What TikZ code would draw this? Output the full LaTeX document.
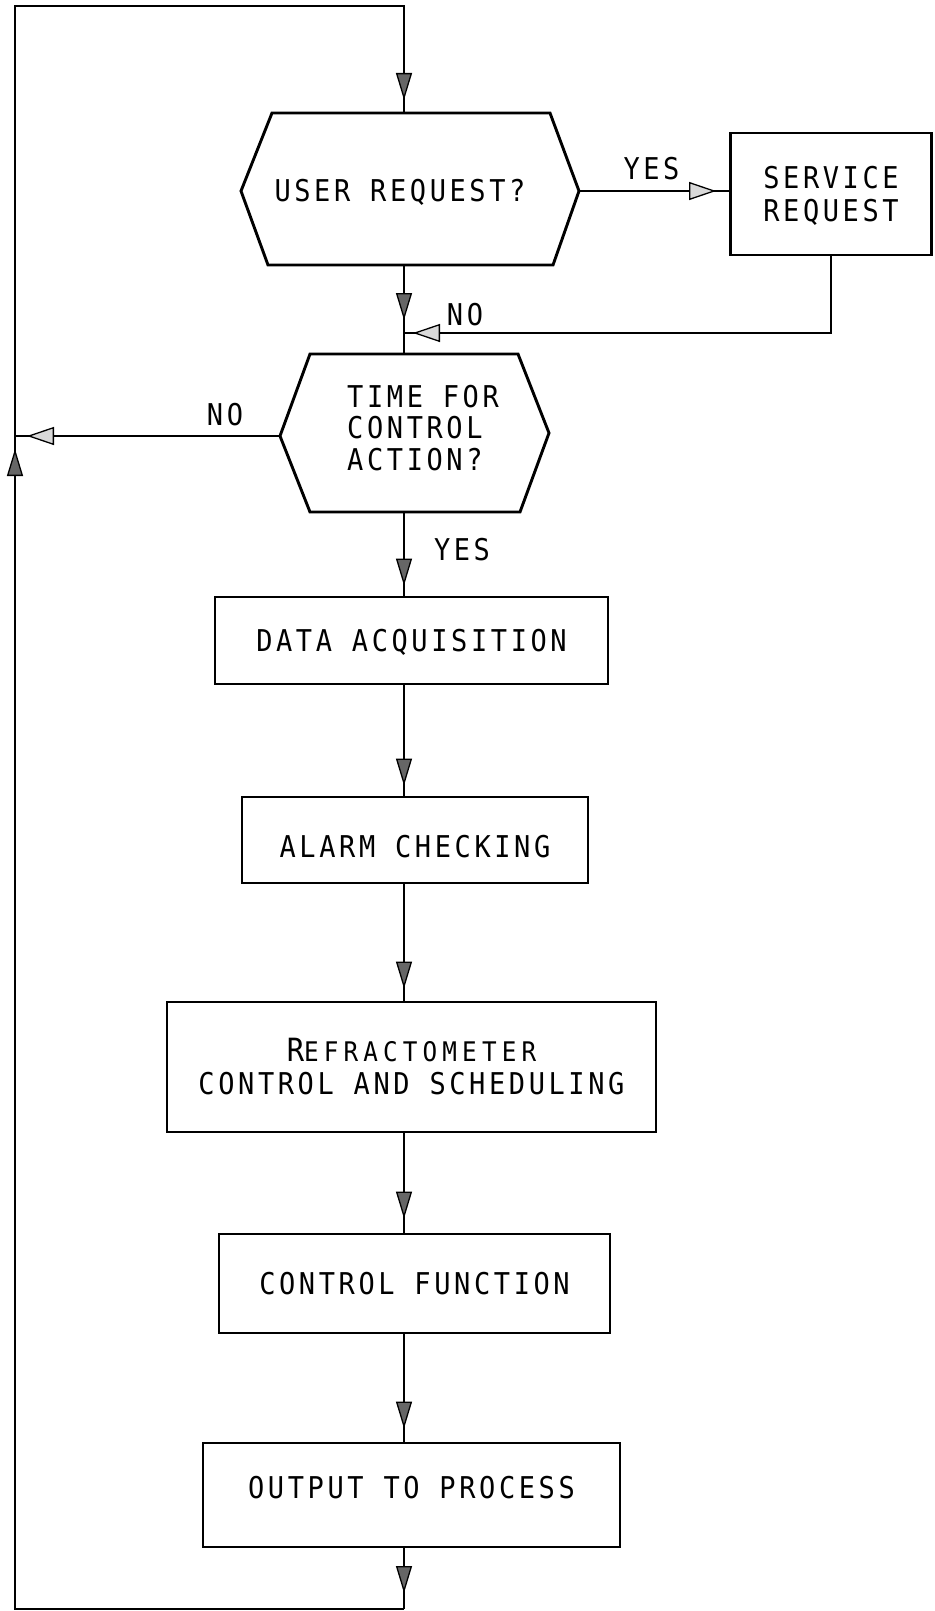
\documentclass[tikz,border=0pt]{standalone}
\usepackage{fontspec}
\usetikzlibrary{arrows.meta,decorations.markings}
% stencil-like lettering: monospaced, slightly narrowed, widely spaced
\newfontfamily\lettering{DejaVu Sans Mono}[FakeStretch=0.9,LetterSpace=12]
\newfontfamily\letteringsc{DejaVu Sans Mono}[FakeStretch=0.9,LetterSpace=19]

\tikzset{
  boxline/.style={line width=2.9pt, line join=miter},
  txt/.style={font=\lettering\fontsize{30pt}{33pt}\selectfont, inner sep=0pt},
  procbox/.style={draw, boxline, rectangle, txt, align=center,
                  text height=22pt, text depth=0pt},
  tag/.style={txt, anchor=base},
  wire/.style={line width=2.2pt},
  headdark/.tip={Triangle[length=27pt,width=16pt,line width=1.3pt,fill=black!60]},
  headlight/.tip={Triangle[length=27pt,width=18pt,line width=1.3pt,fill=black!15]},
  flowdark/.style={postaction={decorate,decoration={markings,
      mark=at position #1 with {\arrow{headdark}}}}},
  flowlight/.style={postaction={decorate,decoration={markings,
      mark=at position #1 with {\arrow{headlight}}}}},
}

\begin{document}
\begin{tikzpicture}[x=1pt,y=-1pt]
\useasboundingbox (0,0) rectangle (934,1611);

% ---------- routing points ----------
\coordinate (spine)    at (404,0);
\coordinate (top)      at (404,6);
\coordinate (topleft)  at (15,6);
\coordinate (leftjoin) at (15,436);
\coordinate (botleft)  at (15,1609);
\coordinate (bot)      at (404,1609);
\coordinate (retjoin)  at (404,333);

% ---------- decision: user request ----------
\node[txt, text height=22pt, text depth=0pt] (q1) at (400,190) {USER REQUEST?};
\draw[boxline] (272,113) -- (550,113) -- (579,191) coordinate (q1e)
   -- (553,265) -- (268,265) -- (241,191) coordinate (q1w) -- cycle;
\coordinate (q1n) at (404,113);
\coordinate (q1s) at (404,265);

% ---------- service request ----------
\node[procbox, minimum width=201pt, minimum height=122pt, text height=55pt]
  (svc) at (831,194) {SERVICE\\REQUEST};

% ---------- decision: time for control action ----------
% multi-line text: the base anchor sits on the last line
\node[txt, anchor=base west, align=left,
      font=\lettering\fontsize{30pt}{31.5pt}\selectfont]
  (q2) at (347,470) {TIME FOR\\CONTROL\\ACTION?};
\draw[boxline] (310,354) -- (518,354) -- (549,433) coordinate (q2e)
   -- (520,512) -- (310,512) -- (280,436) coordinate (q2w) -- cycle;
\coordinate (q2n) at (404,354);
\coordinate (q2s) at (404,512);

% ---------- processing steps ----------
\node[procbox, minimum width=393pt, minimum height=87pt]
  (data) at (411.5,640.5) {DATA ACQUISITION};
\node[procbox, minimum width=346pt, minimum height=86pt, text height=34pt]
  (alarm) at (415,840) {ALARM CHECKING};
\node[procbox, minimum width=489pt, minimum height=130pt, text height=54pt]
  (refr) at (411.5,1067)
  {{\fontsize{32pt}{33pt}\selectfont R}{\letteringsc\fontsize{27pt}{33pt}\selectfont EFRACTOMETER}\\CONTROL AND SCHEDULING};
\node[procbox, minimum width=391pt, minimum height=99pt]
  (ctrl) at (414.5,1283.5) {CONTROL FUNCTION};
\node[procbox, minimum width=417pt, minimum height=104pt, text depth=16pt]
  (out) at (411.5,1495) {OUTPUT TO PROCESS};

% ---------- branch labels ----------
\node[tag] (yes1) at (651.5,179) {YES};
\node[tag] (no1)  at (465,325)   {NO};
\node[tag] (no2)  at (225,425)   {NO};
\node[tag] (yes2) at (462,560)   {YES};

% ---------- connectors ----------
% return loop down the left side and back over the top
\draw[wire, flowdark=-16pt] (out.south -| spine) -- (bot);
\draw[wire, flowdark=-13pt] (bot) -- (botleft) -- (leftjoin);
\draw[wire, flowdark=-13pt] (leftjoin) -- (topleft) -- (top) -- (q1n);

% user request branches
\draw[wire, flowlight=-13pt] (q1e) -- (q1e -| svc.west);
\draw[wire, flowlight=-9pt] (svc.south) -- (svc.south |- retjoin) -- (retjoin);
\draw[wire, flowdark=-34pt] (q1s) -- (q2n);

% control action branches
\draw[wire, flowlight=-12pt] (q2w) -- (leftjoin);
\draw[wire, flowdark=-10pt] (q2s) -- (data.north -| spine);

% main sequence
\draw[wire, flowdark=-10pt] (data.south -| spine) -- (alarm.north -| spine);
\draw[wire, flowdark=-12pt] (alarm.south -| spine) -- (refr.north -| spine);
\draw[wire, flowdark=-14pt] (refr.south -| spine) -- (ctrl.north -| spine);
\draw[wire, flowdark=-13pt] (ctrl.south -| spine) -- (out.north -| spine);
\end{tikzpicture}
\end{document}
